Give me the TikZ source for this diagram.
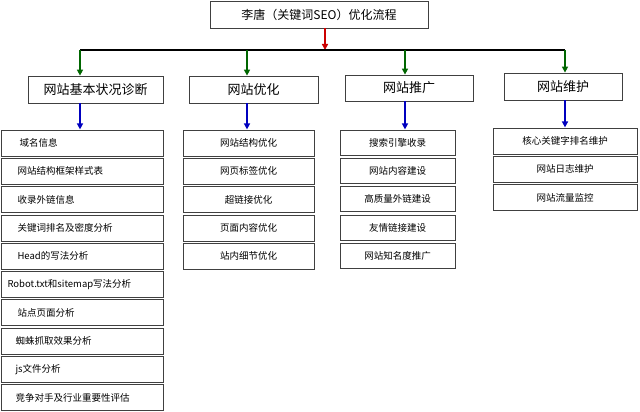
\documentclass[tikz,border=0pt]{standalone}
\usepackage{fontspec}
\setmainfont{Noto Sans CJK SC}
\usetikzlibrary{arrows.meta}
\begin{document}
\begin{tikzpicture}[x=1pt,y=-1pt,
 bx/.style={draw=black!75,line width=0.8pt,fill=white,inner sep=0},
 it/.style={font=\fontsize{9.5}{11}\selectfont},
 hd/.style={bx,font=\fontsize{13}{15}\selectfont},
 ga/.style={draw=green!40!black,line width=2pt,-{Triangle[length=6pt,width=6pt]}},
 ba/.style={draw=blue!75!black,line width=2pt,-{Triangle[length=6pt,width=6pt]}},
 ra/.style={draw=red!80!black,line width=2pt,-{Triangle[length=6pt,width=6pt]}}]
\useasboundingbox (0,0) rectangle (640,412);
\fill[white] (0,0) rectangle (640,412);
% top
\node[hd,font=\fontsize{12}{14}\selectfont,minimum width=218pt,minimum height=27pt] (T) at (319,14.5) {李唐（关键词SEO）优化流程};
\coordinate (Tb) at (325,28);
\coordinate (J) at (325,50);
\draw[ra] (Tb) -- (J);
% headings
\node[hd,minimum width=135pt,minimum height=27pt] (A) at (95.5,89.5) {网站基本状况诊断};
\node[hd,minimum width=129pt,minimum height=27pt] (B) at (253.5,89.5) {网站优化};
\node[hd,minimum width=128pt,minimum height=26pt] (C) at (409,88) {网站推广};
\node[hd,minimum width=118pt,minimum height=27pt] (D) at (563,86.5) {网站维护};
\coordinate (gA) at (80,50);
\coordinate (gB) at (247,50);
\coordinate (gC) at (405,50);
\coordinate (gD) at (565,50);
\draw[line width=1.3pt] (gA) -- (gD);
\draw[ga] (gA) -- (gA|-A.north);
\draw[ga] (gB) -- (gB|-B.north);
\draw[ga] (gC) -- (gC|-C.north);
\draw[ga] (gD) -- (gD|-D.north);
\draw[ba] (A.south-|gA) -- ++(0,26);
\draw[ba] (B.south-|gB) -- ++(0,26);
\draw[ba] (C.south-|gC) -- ++(0,28);
\draw[ba] (D.south-|gD) -- ++(0,27);
% column A
\foreach [count=\i] \t/\xo in {域名信息/16,网站结构框架样式表/14,收录外链信息/14,关键词排名及密度分析/14,Head的写法分析/14,Robot.txt和sitemap写法分析/4,站点页面分析/14,蜘蛛抓取效果分析/12,js文件分析/12,竞争对手及行业重要性评估/12}{
 \pgfmathsetmacro\yy{130+28.3*(\i-1)}
 \draw[bx] (1,\yy) rectangle (163,\yy+26);
 \node[it,anchor=west] (a\i) at (\xo,\yy+13) {\t};
}
\foreach [count=\i] \t in {网站结构优化,网页标签优化,超链接优化,页面内容优化,站内细节优化}{
 \pgfmathsetmacro\yy{130+28.3*(\i-1)}
 \draw[bx] (183,\yy) rectangle (314,\yy+26);
 \node[it] (b\i) at (248.5,\yy+13) {\t};
}
\foreach [count=\i] \t in {搜索引擎收录,网站内容建设,高质量外链建设,友情链接建设,网站知名度推广}{
 \pgfmathsetmacro\yy{130+28.3*(\i-1)}
 \draw[bx] (340,\yy) rectangle (455,\yy+25);
 \node[it] (c\i) at (397.5,\yy+12.5) {\t};
}
\foreach [count=\i] \t in {核心关键字排名维护,网站日志维护,网站流量监控}{
 \pgfmathsetmacro\yy{128+28.3*(\i-1)}
 \draw[bx] (493,\yy) rectangle (637,\yy+26);
 \node[it] (d\i) at (565,\yy+13) {\t};
}
\end{tikzpicture}
\end{document}
